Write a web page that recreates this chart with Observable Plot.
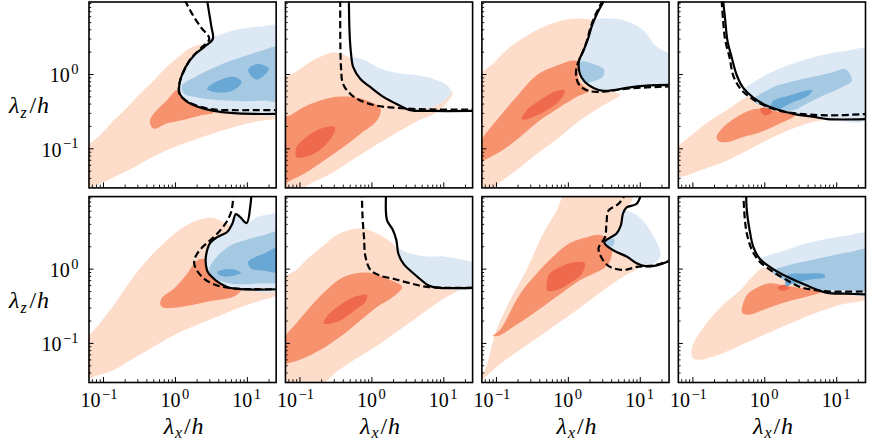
<!DOCTYPE html>
<html>
<head>
<meta charset="utf-8">
<script src="https://cdn.jsdelivr.net/npm/d3@7"></script>
<script src="https://cdn.jsdelivr.net/npm/@observablehq/plot@0.6"></script>
<style>
  body { margin: 0; background: #fff; }
  svg { display: block; }
</style>
</head>
<body>
<div id="chart"></div>
<script>
// Premultiplied spectra contours, 2 x 4 panels (top row: panels 0-3, bottom row: 4-7).
// Every vertex is [log10(λx/h), log10(λz/h)].

const xTicks = [0.1, 1, 10];
const xTickExponents = ["−1", "0", "1"];
const zTicks = [0.1, 1];
const zTickExponents = ["−1", "0"];
const xMinorTicks = [0.07, 0.08, 0.09, 0.2, 0.3, 0.4, 0.5, 0.6, 0.7, 0.8, 0.9, 2, 3, 4, 5, 6, 7, 8, 9, 20];
const zMinorTicks = [0.04, 0.05, 0.06, 0.07, 0.08, 0.09, 0.2, 0.3, 0.4, 0.5, 0.6, 0.7, 0.8, 0.9, 2, 3, 4, 5, 6, 7, 8, 9];
const xDomain = [0.0628, 25.13];
const zDomain = [0.0298, 9.46];

// filled contour levels: one list of polygons per panel
const lightRed = [
  [[[-1.22,-0.98],[-1.05,-0.82],[-0.86,-0.62],[-0.67,-0.44],[-0.49,-0.26],[-0.30,-0.08],[-0.12,0.10],[0.07,0.26],[0.23,0.37],[0.35,0.40],[0.42,0.39],[0.30,0.24],[0.18,0.08],[0.11,-0.06],[0.09,-0.19],[0.11,-0.26],[0.24,-0.37],[0.46,-0.45],[0.81,-0.49],[1.44,-0.50],[1.44,-0.57],[1.09,-0.64],[0.81,-0.71],[0.53,-0.79],[0.26,-0.88],[-0.02,-0.98],[-0.30,-1.10],[-0.58,-1.25],[-0.81,-1.36],[-1.0,-1.45],[-1.14,-1.51],[-1.22,-1.55]]],
  [[[-1.21,-0.07],[-1.05,0.04],[-0.86,0.17],[-0.67,0.26],[-0.53,0.30],[-0.40,0.27],[-0.28,0.21],[-0.02,0.03],[0.44,-0.06],[0.91,-0.13],[1.12,-0.24],[1.05,-0.37],[0.86,-0.53],[0.67,-0.61],[0.44,-0.73],[0.12,-0.91],[-0.21,-1.11],[-0.58,-1.34],[-0.86,-1.47],[-1.0,-1.56],[-1.21,-1.56]]],
  [[[-1.23,-0.03],[-1.05,0.14],[-0.81,0.37],[-0.58,0.52],[-0.30,0.66],[-0.02,0.74],[0.21,0.75],[0.33,0.72],[0.31,0.50],[0.25,0.32],[0.19,0.19],[0.20,0.01],[0.26,-0.08],[0.36,-0.15],[0.49,-0.19],[0.62,-0.24],[0.72,-0.27],[0.44,-0.44],[0.16,-0.62],[-0.12,-0.84],[-0.40,-1.04],[-0.67,-1.25],[-0.95,-1.45],[-1.09,-1.56],[-1.23,-1.56]]],
  [[[-1.23,-1.02],[-1.0,-0.80],[-0.76,-0.62],[-0.53,-0.48],[-0.30,-0.33],[-0.16,-0.28],[0.03,-0.38],[0.21,-0.44],[0.40,-0.49],[0.68,-0.53],[1.0,-0.55],[0.87,-0.60],[0.59,-0.66],[0.21,-0.80],[-0.16,-0.98],[-0.53,-1.16],[-0.90,-1.29],[-1.13,-1.37],[-1.23,-1.38]]],
  [[[-1.22,-0.95],[-1.05,-0.73],[-0.81,-0.42],[-0.58,-0.10],[-0.35,0.17],[-0.12,0.39],[0.12,0.57],[0.35,0.67],[0.51,0.69],[0.65,0.64],[0.81,0.58],[1.0,0.55],[1.44,0.55],[1.44,-0.32],[1.19,-0.42],[0.91,-0.51],[0.63,-0.62],[0.35,-0.73],[0.02,-0.87],[-0.30,-1.04],[-0.58,-1.20],[-0.86,-1.36],[-1.09,-1.43],[-1.22,-1.46]]],
  [[[-1.21,-0.13],[-1.05,-0.01],[-0.86,0.17],[-0.67,0.32],[-0.49,0.46],[-0.30,0.53],[-0.16,0.55],[0.07,0.48],[0.28,0.35],[0.40,0.22],[0.67,0.10],[1.09,0.05],[1.43,-0.05],[1.43,-0.22],[1.28,-0.26],[1.05,-0.37],[0.77,-0.55],[0.44,-0.78],[0.12,-1.0],[-0.21,-1.20],[-0.49,-1.38],[-0.72,-1.56],[-1.21,-1.56]]],
  [[[-1.23,-1.45],[-1.16,-1.36],[-1.0,-0.82],[-0.81,-0.42],[-0.58,-0.01],[-0.35,0.48],[-0.16,0.79],[-0.02,1.04],[0.90,1.04],[0.85,0.86],[0.76,0.76],[0.95,0.55],[1.14,0.35],[1.09,0.12],[1.0,0.03],[0.77,-0.10],[0.49,-0.28],[0.12,-0.55],[-0.35,-0.87],[-0.81,-1.18],[-1.05,-1.36],[-1.19,-1.47]]],
  [[[-1.02,-1.13],[-1.0,-1.02],[-0.81,-0.73],[-0.58,-0.48],[-0.34,-0.28],[-0.18,-0.11],[-0.04,0.01],[0.21,-0.02],[0.68,-0.20],[1.43,-0.25],[1.43,-0.39],[1.05,-0.48],[0.68,-0.60],[0.31,-0.75],[-0.07,-0.91],[-0.44,-1.07],[-0.72,-1.18],[-0.90,-1.22],[-1.0,-1.20]]]
];

const midRed = [
  [[[-0.35,-0.60],[-0.26,-0.48],[-0.12,-0.35],[0.02,-0.21],[0.09,-0.30],[0.21,-0.39],[0.53,-0.51],[0.35,-0.55],[0.07,-0.62],[-0.12,-0.66],[-0.30,-0.73],[-0.35,-0.67]]],
  [[[-1.21,-0.57],[-1.14,-0.55],[-0.95,-0.44],[-0.72,-0.35],[-0.49,-0.30],[-0.30,-0.30],[-0.07,-0.35],[0.12,-0.46],[0.07,-0.62],[-0.16,-0.80],[-0.40,-0.98],[-0.67,-1.16],[-0.95,-1.34],[-1.14,-1.43],[-1.21,-1.46]]],
  [[[-1.23,-0.93],[-1.0,-0.62],[-0.72,-0.30],[-0.44,-0.01],[-0.16,0.12],[0.07,0.19],[0.14,0.17],[0.13,0.05],[0.16,-0.10],[0.28,-0.22],[0.12,-0.30],[-0.12,-0.44],[-0.40,-0.62],[-0.67,-0.84],[-0.95,-1.04],[-1.23,-1.15]]],
  [[[-0.67,-0.84],[-0.58,-0.71],[-0.39,-0.57],[-0.20,-0.48],[-0.07,-0.46],[0.12,-0.49],[0.31,-0.52],[0.42,-0.55],[0.21,-0.66],[-0.07,-0.78],[-0.30,-0.84],[-0.53,-0.91],[-0.65,-0.89]]],
  [[[-0.21,-0.48],[-0.19,-0.39],[-0.02,-0.26],[0.14,-0.09],[0.28,0.10],[0.37,0.14],[0.43,0.12],[0.45,-0.04],[0.56,-0.15],[0.72,-0.24],[0.91,-0.28],[0.81,-0.37],[0.44,-0.44],[0.07,-0.51],[-0.16,-0.52]]],
  [[[-1.21,-0.93],[-1.05,-0.73],[-0.86,-0.51],[-0.63,-0.28],[-0.40,-0.11],[-0.16,-0.05],[0.02,-0.06],[0.21,-0.13],[0.42,-0.24],[0.30,-0.37],[0.07,-0.51],[-0.16,-0.69],[-0.44,-0.91],[-0.72,-1.09],[-0.95,-1.20],[-1.14,-1.26],[-1.21,-1.27]]],
  [[[-1.05,-0.90],[-0.95,-0.82],[-0.67,-0.33],[-0.44,-0.06],[-0.21,0.17],[0.02,0.35],[0.26,0.43],[0.44,0.46],[0.58,0.39],[0.60,0.17],[0.53,0.04],[0.16,-0.15],[-0.16,-0.37],[-0.49,-0.60],[-0.77,-0.78],[-0.95,-0.89]]],
  [[[-0.32,-0.56],[-0.25,-0.35],[-0.11,-0.25],[0.07,-0.19],[0.28,-0.22],[0.54,-0.26],[0.80,-0.30],[0.59,-0.37],[0.31,-0.44],[0.03,-0.53],[-0.20,-0.61],[-0.30,-0.60]]]
];

const darkRed = [
  [],
  [[[-1.05,-1.11],[-1.05,-0.98],[-0.91,-0.84],[-0.72,-0.73],[-0.53,-0.70],[-0.51,-0.75],[-0.63,-0.93],[-0.81,-1.07],[-1.0,-1.12]]],
  [[[-0.65,-0.60],[-0.58,-0.48],[-0.40,-0.35],[-0.16,-0.22],[-0.05,-0.22],[-0.12,-0.35],[-0.30,-0.48],[-0.49,-0.57],[-0.63,-0.61]]],
  [[[-0.07,-0.46],[0.05,-0.45],[0.10,-0.51],[0.0,-0.55],[-0.04,-0.52]]],
  [],
  [[[-0.67,-0.73],[-0.63,-0.64],[-0.44,-0.48],[-0.26,-0.38],[-0.07,-0.35],[-0.09,-0.44],[-0.26,-0.57],[-0.44,-0.69],[-0.63,-0.74]]],
  [[[-0.30,-0.19],[-0.26,-0.06],[-0.07,0.05],[0.12,0.10],[0.23,0.08],[0.19,-0.06],[0.02,-0.19],[-0.16,-0.28],[-0.29,-0.29]]],
  [[[0.18,-0.24],[0.28,-0.21],[0.34,-0.26],[0.22,-0.29]]]
];

const lightBlue = [
  [[[0.51,0.49],[0.72,0.57],[0.95,0.62],[1.23,0.65],[1.44,0.65],[1.44,-0.53],[1.09,-0.53],[0.81,-0.52],[0.44,-0.48],[0.21,-0.40],[0.09,-0.31],[0.05,-0.19],[0.06,-0.08],[0.12,0.08],[0.23,0.23],[0.37,0.37]]],
  [[[-0.28,0.22],[-0.12,0.20],[0.12,0.08],[0.35,0.02],[0.63,-0.01],[0.86,-0.06],[1.05,-0.15],[1.10,-0.24],[1.02,-0.35],[0.86,-0.43],[0.63,-0.48],[0.35,-0.41],[0.16,-0.31],[-0.02,-0.18],[-0.16,-0.07],[-0.26,0.10]]],
  [[[0.33,0.72],[0.44,0.75],[0.67,0.75],[0.91,0.68],[1.07,0.57],[1.21,0.39],[1.37,0.30],[1.43,0.28],[1.43,-0.14],[1.09,-0.15],[0.81,-0.18],[0.63,-0.21],[0.49,-0.22],[0.35,-0.18],[0.23,-0.10],[0.16,0.01],[0.15,0.19],[0.21,0.32],[0.28,0.50]]],
  [[[-0.37,-0.24],[-0.20,-0.13],[0.03,0.0],[0.31,0.12],[0.59,0.21],[0.87,0.28],[1.14,0.32],[1.43,0.33],[1.43,-0.60],[0.87,-0.60],[0.63,-0.56],[0.40,-0.53],[0.21,-0.48],[0.03,-0.42],[-0.16,-0.33],[-0.30,-0.21]]],
  [[[0.99,0.62],[1.14,0.70],[1.28,0.73],[1.44,0.74],[1.44,-0.27],[0.91,-0.27],[0.72,-0.24],[0.56,-0.15],[0.45,-0.04],[0.42,0.10],[0.43,0.21],[0.48,0.35],[0.58,0.43],[0.72,0.50],[0.79,0.61],[0.84,0.73],[0.90,0.70]]],
  [[[0.35,0.28],[0.53,0.21],[0.77,0.17],[1.0,0.17],[1.19,0.14],[1.37,0.10],[1.43,0.05],[1.43,-0.25],[0.91,-0.25],[0.77,-0.22],[0.58,-0.08],[0.44,0.05],[0.37,0.19]]],
  [[[0.74,0.79],[0.91,0.75],[1.05,0.64],[1.16,0.48],[1.26,0.30],[1.28,0.19],[1.23,0.10],[1.09,0.05],[0.95,0.08],[0.81,0.17],[0.63,0.25],[0.51,0.35],[0.67,0.48],[0.72,0.57],[0.74,0.70]]],
  [[[-0.07,0.14],[0.07,0.19],[0.31,0.26],[0.59,0.35],[0.87,0.41],[1.14,0.45],[1.43,0.47],[1.43,-0.34],[1.10,-0.33],[0.87,-0.32],[0.68,-0.26],[0.49,-0.18],[0.26,-0.08],[0.07,0.03]]]
];

const midBlue = [
  [[[0.09,-0.15],[0.26,-0.04],[0.44,0.05],[0.72,0.17],[1.0,0.26],[1.23,0.33],[1.44,0.37],[1.44,-0.35],[1.23,-0.35],[1.0,-0.36],[0.72,-0.35],[0.44,-0.33],[0.26,-0.30],[0.12,-0.26]]],
  [],
  [[[0.17,0.17],[0.35,0.14],[0.50,0.06],[0.47,-0.04],[0.35,-0.09],[0.22,-0.11],[0.16,0.01]]],
  [[[-0.16,-0.35],[0.07,-0.19],[0.35,-0.10],[0.63,-0.04],[0.91,0.02],[1.12,0.07],[1.21,-0.08],[1.05,-0.18],[0.82,-0.28],[0.59,-0.39],[0.40,-0.48],[0.17,-0.48],[-0.02,-0.43]]],
  [[[0.47,0.01],[0.58,0.17],[0.77,0.32],[1.0,0.40],[1.23,0.46],[1.44,0.50],[1.44,-0.16],[1.19,-0.19],[0.81,-0.20],[0.58,-0.14],[0.48,-0.07]]],
  [],
  [[[0.53,0.39],[0.64,0.40],[0.62,0.31],[0.54,0.31]]],
  [[[0.10,-0.03],[0.31,0.05],[0.59,0.11],[0.87,0.17],[1.19,0.23],[1.43,0.26],[1.43,-0.27],[1.19,-0.28],[0.96,-0.28],[0.77,-0.28],[0.59,-0.24],[0.35,-0.18],[0.19,-0.11]]]
];

const darkBlue = [
  [[[0.44,-0.19],[0.58,-0.09],[0.81,-0.03],[0.92,-0.10],[0.79,-0.22],[0.56,-0.24]],
   [[1.01,0.06],[1.13,0.14],[1.30,0.08],[1.13,-0.07]]],
  [],
  [],
  [[[0.10,-0.37],[0.35,-0.28],[0.66,-0.21],[0.61,-0.28],[0.35,-0.39],[0.17,-0.48],[0.10,-0.46]]],
  [[[0.58,-0.04],[0.77,0.0],[0.91,-0.05],[0.81,-0.09],[0.63,-0.09]],
   [[1.01,0.10],[1.23,0.21],[1.44,0.29],[1.44,-0.04],[1.23,-0.02],[1.05,0.01]]],
  [],
  [],
  [[[0.30,-0.09],[0.59,-0.06],[0.82,-0.07],[0.84,-0.11],[0.63,-0.14],[0.40,-0.19],[0.30,-0.23]]]
];

// threshold contour lines, one per panel
const solidLine = [
  [[0.44,1.0],[0.47,0.82],[0.50,0.64],[0.52,0.48],[0.40,0.37],[0.26,0.26],[0.14,0.10],[0.07,-0.06],[0.05,-0.17],[0.06,-0.26],[0.14,-0.35],[0.30,-0.43],[0.53,-0.49],[0.81,-0.52],[1.09,-0.53],[1.44,-0.53]],
  [[-0.32,1.0],[-0.31,0.55],[-0.29,0.28],[-0.26,0.10],[-0.16,-0.06],[-0.02,-0.17],[0.16,-0.30],[0.35,-0.40],[0.53,-0.48],[0.81,-0.49],[1.43,-0.49]],
  [[0.50,1.0],[0.40,0.82],[0.33,0.66],[0.28,0.50],[0.21,0.32],[0.15,0.19],[0.16,0.01],[0.23,-0.10],[0.35,-0.18],[0.49,-0.22],[0.63,-0.21],[0.81,-0.18],[1.09,-0.15],[1.43,-0.14]],
  [[-0.58,1.0],[-0.55,0.73],[-0.52,0.46],[-0.46,0.23],[-0.39,-0.01],[-0.30,-0.18],[-0.16,-0.31],[0.03,-0.42],[0.21,-0.48],[0.40,-0.53],[0.68,-0.57],[0.87,-0.60],[1.43,-0.60]],
  [[1.06,1.06],[1.04,0.84],[0.99,0.62],[0.90,0.70],[0.84,0.74],[0.79,0.61],[0.72,0.50],[0.58,0.43],[0.48,0.35],[0.43,0.21],[0.42,0.10],[0.45,-0.04],[0.56,-0.15],[0.72,-0.24],[0.91,-0.27],[1.44,-0.27]],
  [[0.20,1.06],[0.21,0.66],[0.29,0.53],[0.34,0.39],[0.37,0.20],[0.44,0.07],[0.63,-0.10],[0.79,-0.22],[0.91,-0.25],[1.43,-0.25]],
  [[1.02,1.04],[0.95,0.88],[0.81,0.83],[0.76,0.75],[0.73,0.59],[0.67,0.48],[0.50,0.36],[0.63,0.25],[0.81,0.17],[0.95,0.08],[1.07,0.04],[1.23,0.05],[1.43,0.12]],
  [[-0.26,1.06],[-0.25,0.79],[-0.21,0.52],[-0.16,0.30],[-0.07,0.14],[0.07,0.03],[0.26,-0.08],[0.49,-0.18],[0.68,-0.26],[0.87,-0.32],[1.10,-0.33],[1.43,-0.34]]
];

const dashedLine = [
  [[0.13,1.0],[0.23,0.82],[0.35,0.64],[0.47,0.48],[0.35,0.35],[0.21,0.21],[0.12,0.05],[0.06,-0.10],[0.05,-0.24],[0.12,-0.33],[0.30,-0.42],[0.53,-0.47],[0.81,-0.48],[1.09,-0.48],[1.44,-0.48]],
  [[-0.44,1.0],[-0.43,0.10],[-0.40,-0.13],[-0.30,-0.26],[-0.16,-0.35],[0.07,-0.42],[0.35,-0.45],[0.81,-0.47],[1.43,-0.47]],
  [[0.48,1.0],[0.37,0.79],[0.31,0.64],[0.26,0.46],[0.19,0.28],[0.12,0.12],[0.11,-0.04],[0.16,-0.15],[0.28,-0.22],[0.49,-0.23],[0.81,-0.19],[1.43,-0.16]],
  [[-0.60,1.0],[-0.58,0.73],[-0.55,0.46],[-0.49,0.23],[-0.44,-0.01],[-0.34,-0.19],[-0.20,-0.31],[-0.02,-0.41],[0.17,-0.48],[0.40,-0.52],[0.87,-0.55],[1.43,-0.53]],
  [[0.81,1.06],[0.78,0.79],[0.72,0.65],[0.63,0.53],[0.51,0.41],[0.37,0.29],[0.28,0.17],[0.26,0.08],[0.30,-0.02],[0.40,-0.13],[0.58,-0.22],[0.81,-0.26],[1.44,-0.27]],
  [[-0.14,1.06],[-0.13,0.70],[-0.11,0.43],[-0.09,0.17],[-0.02,-0.01],[0.12,-0.09],[0.30,-0.13],[0.53,-0.19],[0.77,-0.24],[1.43,-0.25]],
  [[0.81,1.04],[0.70,0.88],[0.56,0.79],[0.53,0.61],[0.51,0.43],[0.42,0.28],[0.47,0.14],[0.58,0.03],[0.77,-0.01],[0.95,0.03],[1.19,0.05],[1.43,0.12]],
  [[-0.30,1.06],[-0.28,0.70],[-0.25,0.48],[-0.18,0.26],[-0.07,0.10],[0.12,-0.04],[0.31,-0.15],[0.49,-0.24],[0.68,-0.28],[0.87,-0.30],[1.43,-0.30]]
];

// ---- layout and styling ----
const W = 869, H = 444;
const mL = 88.5, mR = 4, mT = 1.5, mB = 62;
const padX = 0.0473, padY = 0.0447;
const bandX = (W - mL - mR) / (4 - padX) * (1 - padX);
const bandY = (H - mT - mB) / (2 - padY) * (1 - padY);
const serif = "'Liberation Serif', 'Times New Roman', serif";
const tickFont = 20, supFont = 14.5, labelFont = 24, subFont = 16;
const levelStyles = [
  [lightRed, "#fddcca"], [midRed, "#f7926f"], [darkRed, "#ef6a4c"],
  [lightBlue, "#dce9f5"], [midBlue, "#a6c9e3"], [darkBlue, "#69a8d5"]
];

const panelOf = p => ({col: p % 4, row: Math.floor(p / 4)});
function polygonRows(level) {
  const out = [];
  level.forEach((polys, p) => polys.forEach((poly, k) =>
    poly.forEach(([a, b]) => out.push({...panelOf(p), id: `${p}-${k}`, lx: 10 ** a, lz: 10 ** b}))));
  return out;
}
const lineRows = lines => polygonRows(lines.map(l => [l]));

const isNeg = e => e.startsWith("−");
const xLabelRows = [0, 1, 2, 3].flatMap(col => xTicks.map((t, i) => ({col, row: 1, t, exp: xTickExponents[i]})));
const zLabelRows = [0, 1].flatMap(row => zTicks.map((t, i) => ({col: 0, row, t, exp: zTickExponents[i]})));
const txt = {fontFamily: serif, fill: "black", lineAnchor: "bottom"};

// powers of ten under the bottom row: "10" then a raised exponent
const xPowerMarks = [[true, -3], [false, 5]].flatMap(([neg, baseEnd]) => {
  const rows = xLabelRows.filter(r => isNeg(r.exp) === neg);
  return [
    Plot.text(rows, {...txt, fx: "col", fy: "row", x: "t", frameAnchor: "bottom", text: () => "10",
      textAnchor: "end", dx: baseEnd, dy: 24.5, fontSize: tickFont}),
    Plot.text(rows, {...txt, fx: "col", fy: "row", x: "t", frameAnchor: "bottom", text: "exp",
      textAnchor: "start", dx: baseEnd + 1.5, dy: 16.3, fontSize: supFont})
  ];
});

// powers of ten left of the first column, right-aligned
const zPowerMarks = [[true, 15.5], [false, 7.3]].flatMap(([neg, expWidth]) => {
  const rows = zLabelRows.filter(r => isNeg(r.exp) === neg);
  return [
    Plot.text(rows, {...txt, fx: "col", fy: "row", y: "t", frameAnchor: "left", text: () => "10",
      textAnchor: "end", dx: -10.5 - expWidth - 1.5, dy: 7.7, fontSize: tickFont}),
    Plot.text(rows, {...txt, fx: "col", fy: "row", y: "t", frameAnchor: "left", text: "exp",
      textAnchor: "end", dx: -10.5, dy: -0.5, fontSize: supFont})
  ];
});

// axis titles λx/h and λz/h, set piece by piece around a centre x0
function axisTitle(rows, sub, anchor, x0, base) {
  const common = {...txt, fx: "col", fy: "row", frameAnchor: anchor};
  return [
    Plot.text(rows, {...common, text: () => "λ", fontStyle: "italic", fontSize: labelFont, textAnchor: "end", dx: x0 - 8.5, dy: base}),
    Plot.text(rows, {...common, text: () => sub, fontStyle: "italic", fontSize: subFont, textAnchor: "start", dx: x0 - 7.5, dy: base + 4.5}),
    Plot.text(rows, {...common, text: () => "/", fontSize: labelFont, textAnchor: "start", dx: x0 + 1.5, dy: base}),
    Plot.text(rows, {...common, text: () => "h", fontStyle: "italic", fontSize: labelFont, textAnchor: "start", dx: x0 + 9, dy: base})
  ];
}

const fillMarks = levelStyles.map(([level, color]) =>
  Plot.line(polygonRows(level), {
    x: "lx", y: "lz", z: "id", fx: "col", fy: "row",
    fill: color, stroke: "none", curve: "catmull-rom-closed", clip: true
  }));

const chart = Plot.plot({
  width: W, height: H,
  marginLeft: mL, marginRight: mR, marginTop: mT, marginBottom: mB,
  fx: {domain: [0, 1, 2, 3], paddingInner: padX, paddingOuter: 0, round: false, axis: null},
  fy: {domain: [0, 1], paddingInner: padY, paddingOuter: 0, round: false, axis: null},
  x: {type: "log", domain: xDomain, axis: null},
  y: {type: "log", domain: zDomain, axis: null},
  marks: [
    ...fillMarks,
    Plot.line(lineRows(solidLine), {
      x: "lx", y: "lz", z: "id", fx: "col", fy: "row",
      stroke: "black", strokeWidth: 2.2, curve: "catmull-rom", clip: true
    }),
    Plot.line(lineRows(dashedLine), {
      x: "lx", y: "lz", z: "id", fx: "col", fy: "row",
      stroke: "black", strokeWidth: 2.2, strokeDasharray: "7,3.5", strokeLinecap: "butt",
      curve: "catmull-rom", clip: true
    }),
    Plot.tickX(xTicks, {x: d => d, insetTop: bandY - 5, stroke: "black", strokeWidth: 1}),
    Plot.tickX(xMinorTicks, {x: d => d, insetTop: bandY - 2.8, stroke: "black", strokeWidth: 0.9}),
    Plot.tickY(zTicks, {y: d => d, insetRight: bandX - 5, stroke: "black", strokeWidth: 1}),
    Plot.tickY(zMinorTicks, {y: d => d, insetRight: bandX - 2.8, stroke: "black", strokeWidth: 0.9}),
    Plot.frame({stroke: "black", strokeWidth: 1.6}),
    ...xPowerMarks,
    ...zPowerMarks,
    ...axisTitle([0, 1, 2, 3].map(col => ({col, row: 1})), "x", "bottom", 0, 51),
    ...axisTitle([0, 1].map(row => ({col: 0, row})), "z", "left", -61, 18.5)
  ]
});

document.getElementById("chart").append(chart);
</script>
</body>
</html>
